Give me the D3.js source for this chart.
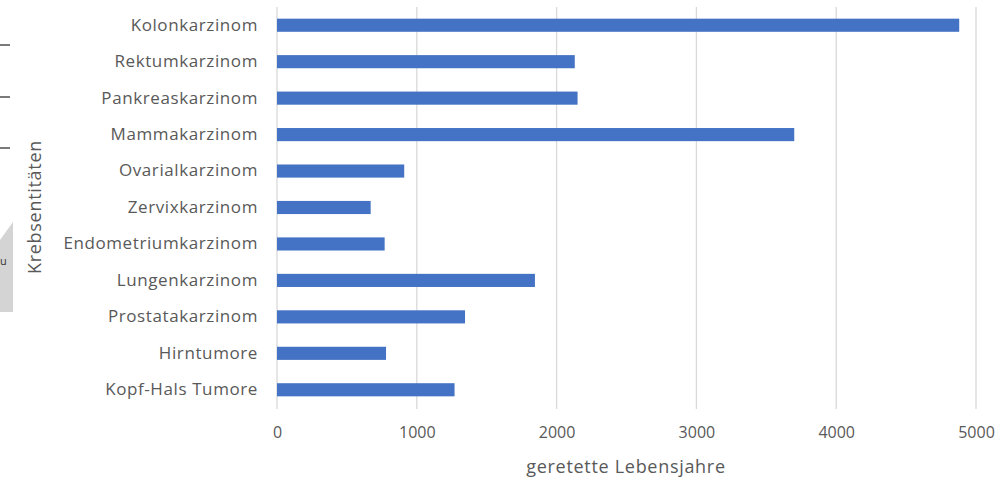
<!DOCTYPE html>
<html>
<head>
<meta charset="utf-8">
<script src="https://cdn.jsdelivr.net/npm/d3@7"></script>
<style>
  html, body { margin: 0; padding: 0; background: #fff; }
  svg { display: block; }
</style>
</head>
<body>
<svg id="chart" width="1006" height="480"></svg>
<script>
// Cancer entities and saved life years
const categories = [
  "Kolonkarzinom", "Rektumkarzinom", "Pankreaskarzinom", "Mammakarzinom",
  "Ovarialkarzinom", "Zervixkarzinom", "Endometriumkarzinom", "Lungenkarzinom",
  "Prostatakarzinom", "Hirntumore", "Kopf-Hals Tumore"
];
const values = [4880, 2130, 2150, 3700, 910, 670, 770, 1845, 1345, 780, 1270];
const xTicks = [0, 1000, 2000, 3000, 4000, 5000];
const xTitle = "geretette Lebensjahre";
const yTitle = "Krebsentitäten";

const svg = d3.select("#chart");
const font = "'Open Sans', sans-serif";
const textColor = "#595959";

const x = d3.scaleLinear().domain([0, 5000]).range([277, 976]);
const y = d3.scaleBand().domain(categories).range([7, 408]).paddingInner(0.64).paddingOuter(0.32);

// Vertical gridlines
svg.append("g")
  .selectAll("line")
  .data(xTicks)
  .join("line")
  .attr("x1", d => x(d)).attr("x2", d => x(d))
  .attr("y1", 7).attr("y2", 409)
  .attr("stroke", "#d9d9d9")
  .attr("stroke-width", 1.3);

// Bars
svg.append("g")
  .selectAll("rect")
  .data(values)
  .join("rect")
  .attr("x", x(0))
  .attr("y", (d, i) => y(categories[i]))
  .attr("width", d => x(d) - x(0))
  .attr("height", y.bandwidth())
  .attr("fill", "#4472C4");

// Category axis
const yAxis = svg.append("g")
  .attr("transform", "translate(271,0)")
  .call(d3.axisLeft(y).tickSize(0).tickPadding(13));
yAxis.select(".domain").remove();
yAxis.selectAll("text")
  .attr("font-family", font)
  .attr("font-size", 17)
  .attr("letter-spacing", 0.6)
  .attr("fill", textColor);

// Value axis labels
const xAxis = svg.append("g")
  .attr("transform", "translate(0,420)")
  .call(d3.axisBottom(x).tickValues(xTicks).tickSize(0).tickPadding(7).tickFormat(d3.format("d")));
xAxis.select(".domain").remove();
xAxis.selectAll("text")
  .attr("font-family", font)
  .attr("font-size", 16)
  .attr("fill", textColor);

// Axis titles
svg.append("text")
  .attr("x", 626).attr("y", 473)
  .attr("text-anchor", "middle")
  .attr("font-family", font)
  .attr("font-size", 18)
  .attr("letter-spacing", 0.7)
  .attr("fill", textColor)
  .text(xTitle);

svg.append("text")
  .attr("transform", "translate(41,207) rotate(-90)")
  .attr("text-anchor", "middle")
  .attr("font-family", font)
  .attr("font-size", 18)
  .attr("letter-spacing", 0.7)
  .attr("fill", textColor)
  .text(yTitle);

// Page-edge remnants at the left margin
svg.append("g")
  .selectAll("line")
  .data([45, 97, 148])
  .join("line")
  .attr("x1", 0).attr("x2", 10)
  .attr("y1", d => d).attr("y2", d => d)
  .attr("stroke", "#222").attr("stroke-width", 1.2);

svg.append("path")
  .attr("d", "M0,240 L13,222 L13,312 L0,312 Z")
  .attr("fill", "#d4d4d4");

svg.append("text")
  .attr("x", 0).attr("y", 265)
  .attr("font-family", font)
  .attr("font-size", 11)
  .attr("fill", "#333")
  .text("u");
</script>
</body>
</html>
